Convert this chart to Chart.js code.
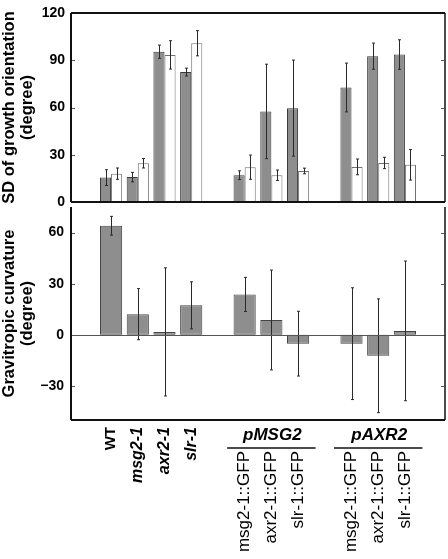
<!DOCTYPE html>
<html>
<head>
<meta charset="utf-8">
<script src="https://cdn.jsdelivr.net/npm/chart.js@4/dist/chart.umd.min.js"></script>
<style>
  body { margin: 0; background: #fff; }
  #wrap { position: relative; width: 448px; height: 559px; background: #fff; }
  canvas { position: absolute; left: 0; }
  #sdChart { top: 0; }
  #curvChart { top: 193px; }
</style>
</head>
<body>
<div id="wrap">
  <canvas id="sdChart" width="448" height="215"></canvas>
  <canvas id="curvChart" width="448" height="366"></canvas>
</div>
<script>
// categories (empty slots are the gaps between groups)
const categories = ['', 'WT', 'msg2-1', 'axr2-1', 'slr-1', '', 'msg2-1::GFP', 'axr2-1::GFP', 'slr-1::GFP', '', 'msg2-1::GFP', 'axr2-1::GFP', 'slr-1::GFP', ''];
const groups = [
  { label: 'pMSG2', from: 6, to: 8 },
  { label: 'pAXR2', from: 10, to: 12 }
];

// SD of growth orientation (degree)
const sdGray     = [null, 15.5, 15.8, 95.4, 82.5, null, 17.0, 57.5, 59.6, null, 72.7, 92.6, 93.6, null];
const sdGrayErr  = [null, 5.0, 3.0, 4.2, 2.5, null, 2.8, 30.0, 30.5, null, 15.5, 8.3, 9.4, null];
const sdWhite    = [null, 18.0, 24.6, 93.4, 100.8, null, 22.1, 17.0, 19.7, null, 22.3, 24.8, 23.6, null];
const sdWhiteErr = [null, 3.6, 3.0, 9.0, 8.0, null, 7.7, 3.3, 1.8, null, 5.0, 3.6, 9.7, null];

// Gravitropic curvature (degree)
const curv    = [null, 64.0, 12.1, 1.7, 17.3, null, 23.7, 8.7, -5.2, null, -5.2, -12.3, 2.3, null];
const curvErr = [null, 5.5, 15.0, 37.6, 13.8, null, 10.0, 29.3, 19.0, null, 32.8, 33.4, 41.0, null];

const sdTicks = [0, 30, 60, 90, 120];
const curvTicks = [-30, 0, 30, 60];

const FONT = '"Liberation Sans", Arial, sans-serif';
const GRAY = '#8e8e8e';

function fixWidth(axis) {
  axis.width = 71;
}

function minusLabel(value) {
  return value < 0 ? '\u2212' + Math.abs(value) : '' + value;
}

// error bars from the dataset's own errors array
const errorBars = {
  id: 'errorBars',
  afterDatasetsDraw(chart) {
    const ctx = chart.ctx;
    const y = chart.scales.y;
    ctx.save();
    ctx.strokeStyle = '#2a2a2a';
    ctx.lineWidth = 1;
    chart.data.datasets.forEach((ds, di) => {
      const meta = chart.getDatasetMeta(di);
      meta.data.forEach((bar, i) => {
        const v = ds.data[i];
        const e = ds.errors[i];
        if (v == null || e == null) return;
        const x = Math.round(bar.x) + 0.5;
        const top = y.getPixelForValue(v + e);
        const bot = y.getPixelForValue(v - e);
        ctx.beginPath();
        ctx.moveTo(x, top); ctx.lineTo(x, bot);
        ctx.moveTo(x - 1.5, top); ctx.lineTo(x + 1.5, top);
        ctx.moveTo(x - 1.5, bot); ctx.lineTo(x + 1.5, bot);
        ctx.stroke();
      });
    });
    ctx.restore();
  }
};

// box, inward ticks, zero line
function framePlugin(tickValues, drawTop, drawZero) {
  return {
    id: 'frame',
    afterDraw(chart) {
      const ctx = chart.ctx;
      const a = chart.chartArea;
      const y = chart.scales.y;
      ctx.save();
      ctx.strokeStyle = '#111';
      if (drawZero) {
        ctx.lineWidth = 1;
        ctx.strokeStyle = '#555';
        const y0 = Math.round(y.getPixelForValue(0)) + 0.5;
        ctx.beginPath(); ctx.moveTo(a.left, y0); ctx.lineTo(a.right, y0); ctx.stroke();
        ctx.strokeStyle = '#111';
      }
      ctx.lineWidth = 2;
      ctx.beginPath();
      if (drawTop) { ctx.moveTo(a.left, a.top); ctx.lineTo(a.right, a.top); }
      ctx.moveTo(a.left, a.bottom); ctx.lineTo(a.right, a.bottom);
      ctx.moveTo(a.left, a.top); ctx.lineTo(a.left, a.bottom);
      ctx.stroke();
      ctx.lineWidth = 1.5;
      ctx.beginPath();
      ctx.moveTo(a.right, a.top); ctx.lineTo(a.right, a.bottom);
      ctx.stroke();
      ctx.lineWidth = 1;
      ctx.strokeStyle = '#555';
      ctx.beginPath();
      tickValues.forEach(t => {
        if (t === 0) return;
        const py = Math.round(y.getPixelForValue(t)) + 0.5;
        if (py <= a.top + 2 || py >= a.bottom - 2) return;
        ctx.moveTo(a.left + 1, py); ctx.lineTo(a.left + 4, py);
        ctx.moveTo(a.right - 4, py); ctx.lineTo(a.right - 1, py);
      });
      ctx.stroke();
      ctx.restore();
    }
  };
}

// category names under the lower panel, plus pMSG2 / pAXR2 brackets
const xLabels = {
  id: 'xLabels',
  afterDraw(chart) {
    const ctx = chart.ctx;
    const xs = chart.scales.x;
    const base = chart.chartArea.bottom;
    ctx.save();
    ctx.fillStyle = '#000';
    categories.forEach((lab, i) => {
      if (!lab) return;
      const x = xs.getPixelForValue(i);
      const gfp = lab.indexOf('::') >= 0;
      if (gfp) ctx.font = '17px ' + FONT;
      else if (lab === 'WT') ctx.font = 'bold 15px ' + FONT;
      else ctx.font = 'italic bold 16px ' + FONT;
      ctx.save();
      ctx.translate(x, base + (gfp ? 31 : 7));
      ctx.rotate(-Math.PI / 2);
      ctx.textAlign = 'right';
      ctx.textBaseline = 'middle';
      ctx.fillText(lab, 0, 0);
      ctx.restore();
    });
    groups.forEach(g => {
      const x1 = xs.getPixelForValue(g.from) - 17.5;
      const x2 = xs.getPixelForValue(g.to) + 17.5;
      ctx.font = 'italic bold 17px ' + FONT;
      ctx.textAlign = 'center';
      ctx.textBaseline = 'alphabetic';
      ctx.fillText(g.label, (x1 + x2) / 2 + 1, base + 20);
      ctx.strokeStyle = '#111';
      ctx.lineWidth = 1.5;
      ctx.beginPath();
      ctx.moveTo(x1, base + 28); ctx.lineTo(x2, base + 28);
      ctx.stroke();
    });
    ctx.restore();
  }
};

new Chart(document.getElementById('sdChart'), {
  type: 'bar',
  data: {
    labels: categories,
    datasets: [
      { data: sdGray, errors: sdGrayErr, backgroundColor: GRAY, borderColor: '#3a3a3a', borderWidth: 1 },
      { data: sdWhite, errors: sdWhiteErr, backgroundColor: '#ffffff', borderColor: '#707070', borderWidth: 1 }
    ]
  },
  options: {
    responsive: false,
    devicePixelRatio: 1,
    animation: false,
    layout: { padding: { left: 0, top: 7, right: 3, bottom: 12 } },
    datasets: { bar: { categoryPercentage: 0.83, barPercentage: 1 } },
    plugins: { legend: { display: false }, tooltip: { enabled: false } },
    scales: {
      x: { display: false },
      y: {
        min: 0, max: 120,
        afterFit: fixWidth,
        afterBuildTicks: axis => { axis.ticks = sdTicks.map(v => ({ value: v })); },
        grid: { display: false, drawTicks: false },
        border: { display: false },
        ticks: { color: '#000', padding: 6, font: { family: FONT, size: 14, weight: 'bold', lineHeight: 1 }, callback: minusLabel },
        title: {
          display: true,
          text: ['SD of growth orientation', '(degree)'],
          color: '#000',
          padding: 0,
          font: { family: FONT, size: 16.5, weight: 'bold', lineHeight: 1.1 }
        }
      }
    }
  },
  plugins: [errorBars, framePlugin(sdTicks, true, false)]
});

new Chart(document.getElementById('curvChart'), {
  type: 'bar',
  data: {
    labels: categories,
    datasets: [
      { data: curv, errors: curvErr, backgroundColor: GRAY, borderColor: '#444', borderWidth: 1, borderSkipped: false }
    ]
  },
  options: {
    responsive: false,
    devicePixelRatio: 1,
    animation: false,
    layout: { padding: { left: 0, top: 10, right: 3, bottom: 139 } },
    datasets: { bar: { categoryPercentage: 0.83, barPercentage: 1 } },
    plugins: { legend: { display: false }, tooltip: { enabled: false } },
    scales: {
      x: { display: false },
      y: {
        min: -50, max: 75,
        afterFit: fixWidth,
        afterBuildTicks: axis => { axis.ticks = curvTicks.map(v => ({ value: v })); },
        grid: { display: false, drawTicks: false },
        border: { display: false },
        ticks: { color: '#000', padding: 7, font: { family: FONT, size: 14, weight: 'bold', lineHeight: 1 }, callback: minusLabel },
        title: {
          display: true,
          text: ['Gravitropic curvature', '(degree)'],
          color: '#000',
          padding: 0,
          font: { family: FONT, size: 16.5, weight: 'bold', lineHeight: 1.1 }
        }
      }
    }
  },
  plugins: [errorBars, framePlugin(curvTicks, false, true), xLabels]
});
</script>
</body>
</html>
